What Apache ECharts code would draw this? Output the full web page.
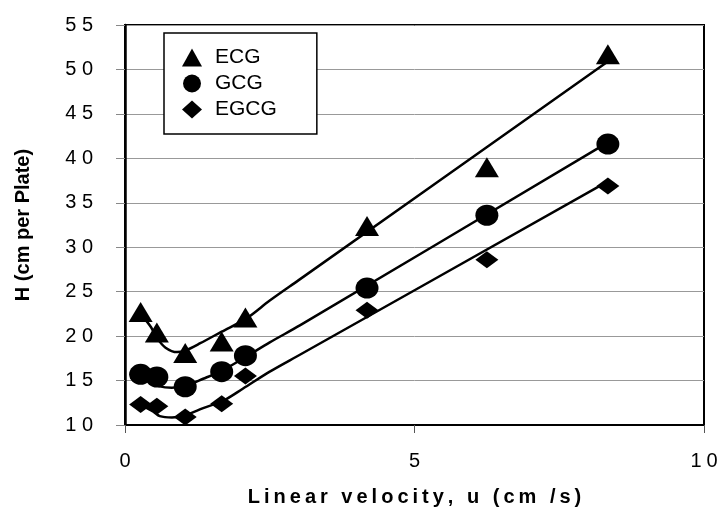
<!DOCTYPE html>
<html>
<head>
<meta charset="utf-8">
<script src="https://cdn.jsdelivr.net/npm/echarts@6/dist/echarts.min.js"></script>
<style>
  html, body { margin: 0; padding: 0; background: #fff; }
  #chart { width: 721px; height: 520px; }
</style>
</head>
<body>
<div id="chart"></div>
<script>
// linear velocity u (cm/s) of the measured points
const velocity = [0.27, 0.55, 1.04, 1.67, 2.08, 4.18, 6.25, 8.34];
const ecg = [22.7, 20.4, 18.1, 19.4, 22.1, 32.4, 39.0, 51.7];
const gcg = [15.7, 15.4, 14.3, 16.0, 17.8, 25.4, 33.6, 41.6];
const egcg = [12.3, 12.1, 10.9, 12.4, 15.5, 22.9, 28.6, 36.9];

// fitted curves
const ecgFit = [[0.27, 22.5], [0.45, 21.0], [0.55, 19.8], [0.7, 18.7], [0.9, 18.2], [1.05, 18.4],
  [1.3, 19.2], [1.67, 20.5], [2.1, 22.0], [2.5, 24.0], [3.0, 26.3], [8.34, 50.9]];
const gcgFit = [[0.27, 15.6], [0.43, 14.9], [0.6, 14.35], [0.81, 14.2], [1.04, 14.4], [1.35, 15.2],
  [1.67, 16.1], [2.07, 17.6], [2.5, 19.3], [3.02, 21.2], [8.34, 41.8]];
const egcgFit = [[0.27, 12.3], [0.49, 11.5], [0.6, 11.0], [0.81, 10.85], [1.04, 11.1], [1.35, 11.9],
  [1.69, 12.7], [2.04, 14.1], [2.5, 16.0], [3.02, 17.9], [8.34, 37.4]];

const font = "Arial, 'Liberation Sans', sans-serif";
const spaced = (s, sep) => String(s).split("").join(sep);

function pts(ys) {
  return velocity.map((x, i) => [x, ys[i]]);
}

function fitLine(data) {
  return {
    type: "line",
    data: data,
    smooth: 0.3,
    showSymbol: false,
    silent: true,
    lineStyle: { color: "#000", width: 2.5 },
    z: 2
  };
}

function marks(name, ys, symbol, size) {
  return {
    name: name,
    type: "scatter",
    data: pts(ys),
    symbol: symbol,
    symbolSize: size,
    itemStyle: { color: "#000", opacity: 1 },
    clip: false,
    z: 3
  };
}

const chart = echarts.init(document.getElementById("chart"));
chart.setOption({
  animation: false,
  backgroundColor: "#fff",
  grid: {
    left: 125,
    right: 17,
    top: 25,
    bottom: 95,
    show: true,
    borderColor: "#000",
    borderWidth: 2
  },
  legend: {
    orient: "vertical",
    left: 164,
    top: 33,
    padding: [14, 40, 14, 18],
    itemGap: 5,
    itemWidth: 20,
    itemHeight: 18,
    borderColor: "#000",
    borderWidth: 1.5,
    backgroundColor: "#fff",
    itemStyle: { opacity: 1 },
    textStyle: { fontFamily: font, fontSize: 21, color: "#000", padding: [0, 0, 0, 8] },
    data: [
      { name: "ECG", icon: "triangle" },
      { name: "GCG", icon: "circle" },
      { name: "EGCG", icon: "diamond" }
    ]
  },
  xAxis: {
    type: "value",
    min: 0,
    max: 10,
    interval: 5,
    name: spaced("Linear velocity, u (cm /s)", "\u2009"),
    nameLocation: "middle",
    nameGap: 62,
    nameTextStyle: { fontFamily: font, fontSize: 20, fontWeight: "bold", color: "#000" },
    axisLine: { lineStyle: { color: "#000", width: 2 } },
    axisTick: { show: true, inside: false, length: 8, lineStyle: { color: "#555" } },
    axisLabel: {
      margin: 26,
      fontFamily: font,
      fontSize: 20,
      color: "#000",
      formatter: v => spaced(v, "\u2005")
    },
    splitLine: { show: false }
  },
  yAxis: {
    type: "value",
    min: 10,
    max: 55,
    interval: 5,
    name: "H (cm per Plate)",
    nameLocation: "middle",
    nameGap: 92,
    nameTextStyle: { fontFamily: font, fontSize: 20, fontWeight: "bold", color: "#000" },
    axisLine: { lineStyle: { color: "#000", width: 2.5 } },
    axisTick: { show: true, length: 9, lineStyle: { color: "#888" } },
    axisLabel: {
      margin: 32,
      fontFamily: font,
      fontSize: 20,
      color: "#000",
      formatter: v => spaced(v, " ")
    },
    splitLine: { show: true, lineStyle: { color: "#999", width: 1 } }
  },
  series: [
    fitLine(ecgFit),
    fitLine(gcgFit),
    fitLine(egcgFit),
    marks("ECG", ecg, "triangle", [24, 20]),
    marks("GCG", gcg, "circle", [23, 21]),
    marks("EGCG", egcg, "diamond", [23, 17])
  ]
});
</script>
</body>
</html>
